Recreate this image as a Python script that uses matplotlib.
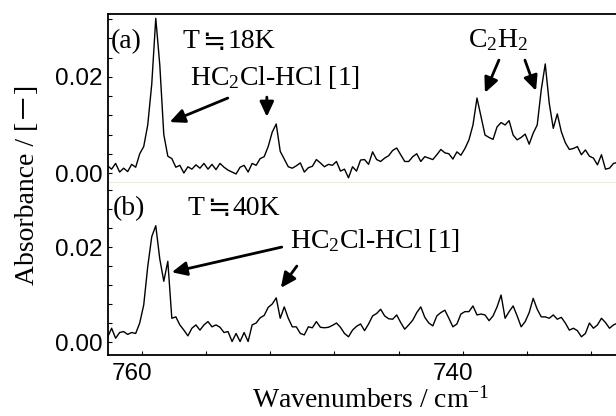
import numpy as np
import matplotlib
matplotlib.use("Agg")
import matplotlib.pyplot as plt
import matplotlib.transforms as mtransforms
from matplotlib.ticker import MultipleLocator, FixedLocator

plt.rcParams['mathtext.fontset'] = 'custom'
plt.rcParams['mathtext.rm'] = 'Liberation Serif'
plt.rcParams['mathtext.it'] = 'Liberation Serif:italic'

# sampling grid of the spectra (cm-1), high to low
wavenumber = np.arange(762.125, 730.3, -0.25)

# (a) T = 18 K
absorb_18K = [
    0.0015, 0.0008, 0.0020, 0.0002, 0.0010, 0.0003, 0.0018, 0.0012,
    0.0040, 0.0055, 0.0100, 0.0185, 0.0322, 0.0225, 0.0080, 0.0035,
    0.0030, 0.0012, 0.0016, 0.0000, 0.0013, 0.0008, 0.0017, 0.0010,
    0.0020, 0.0008, 0.0018, 0.0007, 0.0020, 0.0012, 0.0006, 0.0002,
    -0.0002, 0.0012, 0.0016, 0.0002, 0.0020, 0.0016, 0.0030, 0.0034,
    0.0055, 0.0085, 0.0102, 0.0045, 0.0029, 0.0013, 0.0010, 0.0015,
    0.0021, 0.0002, 0.0011, 0.0014, 0.0028, 0.0021, 0.0013, 0.0018,
    0.0016, 0.0024, 0.0004, 0.0008, -0.0010, 0.0013, 0.0004, 0.0027,
    0.0028, 0.0018, 0.0044, 0.0028, 0.0024, 0.0031, 0.0036, 0.0047,
    0.0052, 0.0038, 0.0024, 0.0024, 0.0034, 0.0040, 0.0024, 0.0034,
    0.0031, 0.0028, 0.0038, 0.0049, 0.0042, 0.0040, 0.0029, 0.0044,
    0.0037, 0.0051, 0.0069, 0.0100, 0.0156, 0.0118, 0.0079, 0.0074,
    0.0070, 0.0096, 0.0105, 0.0100, 0.0109, 0.0079, 0.0069, 0.0074,
    0.0081, 0.0060, 0.0083, 0.0100, 0.0173, 0.0227, 0.0145, 0.0093,
    0.0123, 0.0086, 0.0063, 0.0049, 0.0051, 0.0055, 0.0038, 0.0048,
    0.0035, 0.0031, 0.0017, 0.0038, 0.0008, 0.0010, 0.0020, 0.0022,
]

# (b) T = 40 K
absorb_40K = [
    0.0010, 0.0029, 0.0008, 0.0020, 0.0022, 0.0016, 0.0020, 0.0018,
    0.0040, 0.0078, 0.0159, 0.0222, 0.0245, 0.0175, 0.0128, 0.0170,
    0.0050, 0.0053, 0.0036, 0.0025, 0.0013, 0.0029, 0.0036, 0.0025,
    0.0036, 0.0043, 0.0032, 0.0036, 0.0031, 0.0020, 0.0022, 0.0001,
    0.0018, 0.0001, 0.0020, 0.0001, 0.0036, 0.0040, 0.0051, 0.0056,
    0.0073, 0.0080, 0.0093, 0.0050, 0.0074, 0.0050, 0.0032, 0.0032,
    0.0018, 0.0015, 0.0032, 0.0030, 0.0043, 0.0031, 0.0030, 0.0031,
    0.0035, 0.0040, 0.0031, 0.0018, 0.0011, 0.0025, 0.0033, 0.0038,
    0.0024, 0.0038, 0.0055, 0.0060, 0.0069, 0.0055, 0.0049, 0.0048,
    0.0057, 0.0041, 0.0027, 0.0036, 0.0046, 0.0062, 0.0074, 0.0052,
    0.0040, 0.0034, 0.0055, 0.0062, 0.0067, 0.0050, 0.0032, 0.0038,
    0.0059, 0.0064, 0.0064, 0.0076, 0.0057, 0.0059, 0.0057, 0.0045,
    0.0055, 0.0074, 0.0099, 0.0050, 0.0064, 0.0076, 0.0055, 0.0032,
    0.0043, 0.0062, 0.0092, 0.0069, 0.0053, 0.0053, 0.0050, 0.0057,
    0.0048, 0.0052, 0.0040, 0.0025, 0.0029, 0.0024, 0.0011, 0.0018,
    0.0040, 0.0029, 0.0036, 0.0050, 0.0041, 0.0029, 0.0036, 0.0040,
]

x_ticks = [760, 740]
y_ticks = [0.00, 0.02]

serif = ['Liberation Serif', 'DejaVu Sans', 'Noto Sans CJK JP']
tick_font = 'Liberation Sans'
fs_text = 20
fs_tick = 17.5
beige = '#e6e2d2'

fig = plt.figure(figsize=(6.16, 4.16), dpi=100)
ax_a = fig.add_axes([0.1753, 0.5601, 0.8247, 0.4063])
ax_b = fig.add_axes([0.1753, 0.1466, 0.8247, 0.4135])

ax_a.plot(wavenumber, absorb_18K, color='black', lw=1.0)
ax_b.plot(wavenumber, absorb_40K, color='black', lw=1.0)

for ax in (ax_a, ax_b):
    ax.set_xlim(762.1, 730.47)
    ax.xaxis.set_major_locator(FixedLocator(x_ticks))
    ax.xaxis.set_minor_locator(MultipleLocator(4))
    ax.yaxis.set_major_locator(FixedLocator(y_ticks))
    ax.yaxis.set_minor_locator(MultipleLocator(0.004))
    ax.tick_params(which='both', direction='in', length=3, width=0.8,
                   labelsize=fs_tick, pad=4)
    ax.spines['right'].set_visible(False)
    ax.spines['left'].set_linewidth(1.3)
    ax.set_yticklabels(['0.00', '0.02'], fontfamily=tick_font)

ax_a.set_ylim(-0.00208, 0.0331)
ax_b.set_ylim(-0.00274, 0.0335)

ax_a.spines['top'].set_linewidth(1.3)
ax_a.spines['bottom'].set_color(beige)
ax_a.spines['bottom'].set_linewidth(1.8)
ax_a.tick_params(axis='x', which='both', bottom=False, labelbottom=False)

ax_b.spines['top'].set_visible(False)
ax_b.spines['bottom'].set_linewidth(1.3)
ax_b.set_xticklabels(['760', '740'], fontfamily=tick_font)
ax_b.tick_params(axis='x', pad=6)
shift = mtransforms.ScaledTranslation(-0.10, 0, fig.dpi_scale_trans)
for lab in ax_b.get_xticklabels():
    lab.set_transform(lab.get_transform() + shift)

arrow = dict(arrowstyle='-|>,head_length=0.9,head_width=0.42', color='black',
             lw=2.0, shrinkA=0, shrinkB=0)


def temp_label(ax, x, y, kelvin):
    # T, the sign and the value are placed one after the other, since mixing
    # fonts in one string gives the sign a wrong advance
    ax.text(x, y, 'T', family=serif, fontsize=fs_text, ha='left', va='center')
    sign_pos = mtransforms.offset_copy(ax.transData, fig=fig, x=19, y=0, units='dots')
    ax.text(x, y, '≒', family='DejaVu Sans', fontsize=fs_text, ha='left',
            va='center', transform=sign_pos)
    value_pos = mtransforms.offset_copy(ax.transData, fig=fig, x=45, y=0, units='dots')
    ax.text(x, y, kelvin, family=serif, fontsize=fs_text, ha='left',
            va='center', transform=value_pos)


# panel (a)
ax_a.text(761.93, 0.0273, '(a)', family=serif, fontsize=fs_text, ha='left', va='center')
temp_label(ax_a, 757.45, 0.0273, '18K')
ax_a.text(757.0, 0.0198, r'HC$_2$Cl-HCl [1]', family=serif, fontsize=fs_text,
          ha='left', va='center')
ax_a.text(737.82, 0.0277, r'C$_2$H$_2$', family=serif, fontsize=fs_text,
          ha='center', va='center')
ax_a.annotate('', xy=(758.26, 0.0106), xytext=(754.64, 0.0156), arrowprops=arrow)
ax_a.annotate('', xy=(752.21, 0.0117), xytext=(752.21, 0.0158), arrowprops=arrow)
ax_a.annotate('', xy=(738.63, 0.0167), xytext=(737.76, 0.0235), arrowprops=arrow)
ax_a.annotate('', xy=(735.45, 0.0171), xytext=(736.14, 0.0235), arrowprops=arrow)

# panel (b)
ax_b.text(761.8, 0.0282, '(b)', family=serif, fontsize=fs_text, ha='left', va='center')
temp_label(ax_b, 757.13, 0.0282, '40K')
ax_b.text(750.78, 0.0213, r'HC$_2$Cl-HCl [1]', family=serif, fontsize=fs_text,
          ha='left', va='center')
ax_b.annotate('', xy=(758.13, 0.0147), xytext=(751.28, 0.0200), arrowprops=arrow)
ax_b.annotate('', xy=(751.34, 0.0114), xytext=(750.34, 0.0160), arrowprops=arrow)

fig.text(0.045, 1 - 185 / 416, 'Absorbance / [－]', family=serif, fontsize=fs_text,
         rotation=90, ha='center', va='center')
fig.text(371 / 616, 1 - 400 / 416, r'Wavenumbers / cm$^{-1}$', family=serif,
         fontsize=fs_text, ha='center', va='center')

fig.savefig('out.png', dpi=100)
